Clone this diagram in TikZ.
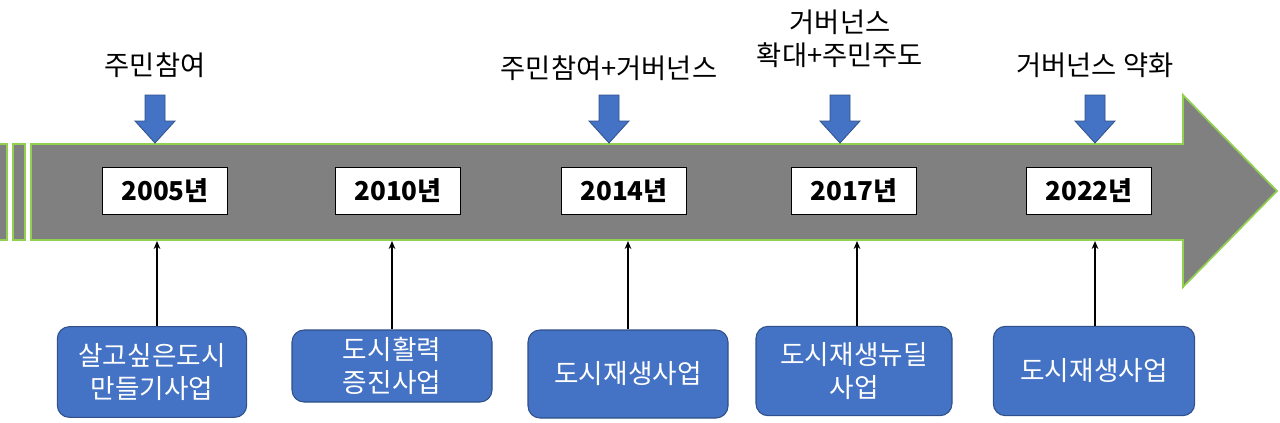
\documentclass[tikz,border=0pt]{standalone}
\usepackage{fontspec}
\usetikzlibrary{arrows.meta}
\setmainfont{Noto Sans CJK KR}
\begin{document}
\begin{tikzpicture}[x=0.75pt,y=-0.75pt]
\definecolor{gr}{RGB}{128,128,128}
\definecolor{gl}{RGB}{146,208,80}
\definecolor{bl}{RGB}{68,114,196}
\tikzset{body/.style={fill=gr,draw=gl,line width=1.3pt},
  yearbox/.style={draw=black,fill=white,line width=1.2pt,minimum width=94pt,minimum height=35pt,inner sep=0pt,font=\fontsize{19.5}{22}\selectfont\bfseries},
  bluebox/.style={fill=bl,draw=bl!70!black,rounded corners=9pt,text=white,align=center,font=\fontsize{20}{25}\selectfont,line width=0.8pt},
  toplab/.style={align=center,font=\fontsize{20.5}{25}\selectfont},
  down/.style={fill=bl,draw=bl!70!black,line width=0.6pt},
  up/.style={-{Stealth[length=6pt,width=5pt]},line width=0.9pt}}
\useasboundingbox (0,0) rectangle (1280,422);
\filldraw[body] (-2,144) rectangle (7,240);
\filldraw[body] (13,144) rectangle (25,240);
\filldraw[body] (31,144) -- (1183,144) -- (1183,95) -- (1277,191) -- (1183,287) -- (1183,240) -- (31,240) -- cycle;
% years
\node[yearbox] (y1) at (165,191) {2005년};
\node[yearbox] (y2) at (398,191) {2010년};
\node[yearbox] (y3) at (624,191) {2014년};
\node[yearbox] (y4) at (854,191) {2017년};
\node[yearbox] (y5) at (1089,191) {2022년};
% down arrows
\foreach \x in {155,609,840,1095}{
 \filldraw[down] (\x-10,95) -- (\x+10,95) -- (\x+10,121) -- (\x+20,121) -- (\x,143) -- (\x-20,121) -- (\x-10,121) -- cycle;}
\node[toplab] (t1) at (155,65) {주민참여};
\node[toplab] (t2) at (609,68) {주민참여+거버넌스};
\node[toplab] (t3) at (840,39) {거버넌스\\확대+주민주도};
\node[toplab] (t4) at (1095,65) {거버넌스 약화};
% bottom boxes
\node[bluebox,minimum width=142pt,minimum height=68pt] (b1) at (152,372) {살고싶은도시\\만들기사업};
\node[bluebox,minimum width=150pt,minimum height=54pt] (b2) at (392,366) {도시활력\\증진사업};
\node[bluebox,minimum width=150pt,minimum height=66pt] (b3) at (628,374) {도시재생사업};
\node[bluebox,minimum width=147pt,minimum height=67pt] (b4) at (854,371) {도시재생뉴딜\\사업};
\node[bluebox,minimum width=151pt,minimum height=67pt] (b5) at (1094,371) {도시재생사업};
\coordinate (e1) at (157,241); \coordinate (e2) at (392,241); \coordinate (e3) at (628,241);
\coordinate (e4) at (857,241); \coordinate (e5) at (1095,241);
\draw[up] (b1.north -| e1) -- (e1);
\draw[up] (b2.north -| e2) -- (e2);
\draw[up] (b3.north -| e3) -- (e3);
\draw[up] (b4.north -| e4) -- (e4);
\draw[up] (b5.north -| e5) -- (e5);
\end{tikzpicture}
\end{document}
